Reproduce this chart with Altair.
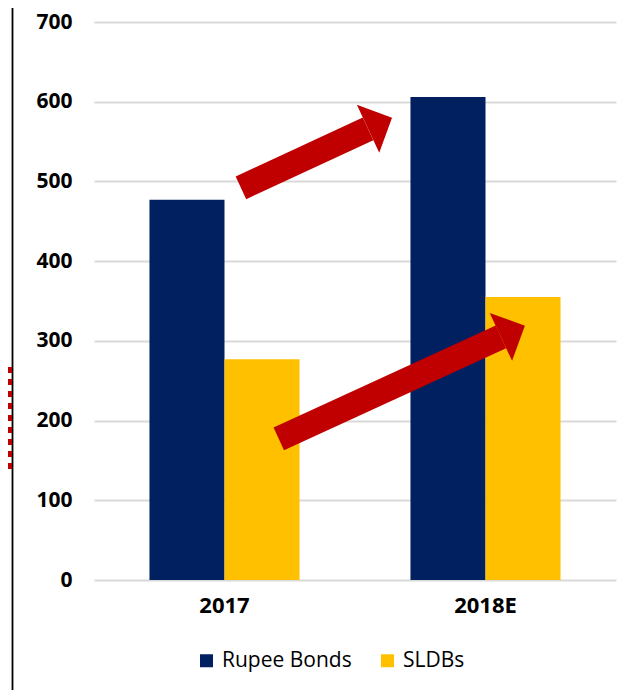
import altair as alt
import pandas as pd

years = ["2017", "2018E"]
series = ["Rupee Bonds", "SLDBs"]
rupee_bonds = [477, 606]
sldbs = [277, 355]
colors = ["#002060", "#FFC000"]
y_ticks = [0, 100, 200, 300, 400, 500, 600, 700]

# growth arrows, in data units (x runs 0..2 across the two year slots)
arrow_x_start = [0.563, 0.708]
arrow_y_start = [492, 177]
arrow_x_end = [1.05, 1.559]
arrow_y_end = [566, 305]

rows = []
for i, yr in enumerate(years):
    rows.append({"year": yr, "series": series[0], "value": rupee_bonds[i]})
    rows.append({"year": yr, "series": series[1], "value": sldbs[i]})
df = pd.DataFrame(rows)

arrows = pd.DataFrame({
    "x": arrow_x_start, "y": arrow_y_start,
    "x2": arrow_x_end, "y2": arrow_y_end,
})

FONT = "Open Sans"
yscale = alt.Scale(domain=[0, 700], nice=False)

bars = alt.Chart(df).mark_bar().encode(
    x=alt.X("year:N", sort=years,
            scale=alt.Scale(paddingInner=0.425, paddingOuter=0.2125),
            axis=alt.Axis(title=None, labelAngle=0, labelFont=FONT, labelFontSize=22,
                          labelFontWeight="bold", labelColor="#000000", domain=False,
                          ticks=False, labelPadding=15)),
    xOffset=alt.XOffset("series:N", sort=series),
    y=alt.Y("value:Q", scale=yscale,
            axis=alt.Axis(values=y_ticks, title=None, labelFont=FONT, labelFontSize=21,
                          labelFontWeight="bold", labelColor="#000000", domain=False,
                          ticks=False, labelPadding=22, grid=True, gridColor="#d9d9d9",
                          gridWidth=2)),
    color=alt.Color("series:N", sort=series,
                    scale=alt.Scale(domain=series, range=colors),
                    legend=alt.Legend(title=None, orient="none", legendX=102, legendY=628,
                                      direction="horizontal", symbolType="square",
                                      symbolSize=169, symbolStrokeWidth=0,
                                      labelFont=FONT, labelFontSize=21,
                                      labelColor="#000000", columnPadding=25,
                                      labelOffset=5)),
)

xq = alt.Scale(domain=[0, 2], nice=False, zero=False)

shaft = alt.Chart(arrows).mark_rule(color="#C00000", strokeWidth=25, strokeCap="butt").encode(
    x=alt.X("x:Q", scale=xq, axis=None),
    y=alt.Y("y:Q", scale=yscale),
    x2="x2:Q",
    y2="y2:Q",
)

head = alt.Chart(arrows).mark_point(
    shape="M0,-1L1,0L0,1Z", filled=True, opacity=1, color="#C00000",
    size=2800, angle=335, strokeWidth=0,
).encode(
    x=alt.X("x2:Q", scale=xq, axis=None),
    y=alt.Y("y2:Q", scale=yscale),
)

deco_df = pd.DataFrame({"a": [0]})
left_line = alt.Chart(deco_df).mark_rule(color="#000000", strokeWidth=1.8).encode(
    x=alt.value(-81.5), y=alt.value(-22), y2=alt.value(673)
)
dotted = alt.Chart(deco_df).mark_rule(color="#C00000", strokeWidth=6, strokeDash=[6, 6]).encode(
    x=alt.value(-85), y=alt.value(345), y2=alt.value(453)
)

chart = alt.layer(bars, shaft, head, left_line, dotted).resolve_scale(
    x="independent"
).properties(
    width=522, height=558,
    autosize=alt.AutoSizeParams(type="none"),
    padding={"left": 86, "top": 14, "right": 10, "bottom": 110},
).configure_view(stroke=None)

chart.save("out.html", embed_options={"renderer": "svg", "actions": False})
